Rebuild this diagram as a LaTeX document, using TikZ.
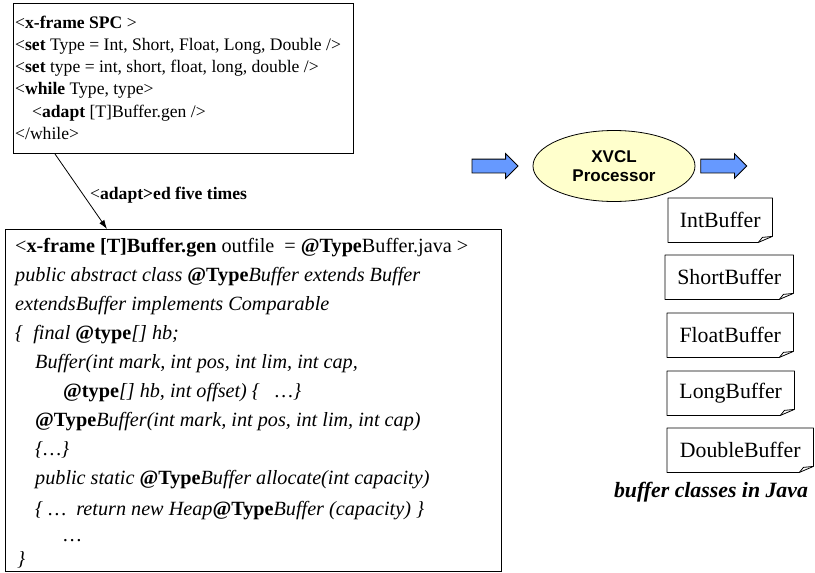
\documentclass[tikz,border=0pt]{standalone}
\usepackage{fontspec}
\setmainfont{Liberation Serif}
\setsansfont{Liberation Sans}
\usetikzlibrary{arrows.meta,calc,shapes.geometric,shapes.arrows}

\definecolor{procfill}{HTML}{FFFFCC}
\definecolor{arrowfill}{HTML}{6699FF}

% font sizes (1pt = 1 unit of the drawing)
\newcommand\spcfs{\fontsize{17.6}{21}\selectfont}
\newcommand\genfs{\fontsize{20.2}{24}\selectfont}
\newcommand\buffs{\fontsize{21.8}{26}\selectfont}
\newcommand\procfs{\fontsize{17}{19.5}\selectfont}
% bold upright meta-variable inside italic code
\newcommand\mv[1]{{\upshape\bfseries #1}}

\begin{document}
\begin{tikzpicture}[x=1pt,y=-1pt,
  frame/.style={draw,line width=1pt,inner sep=0pt,anchor=north west},
  codeline/.style={anchor=base west,inner sep=0pt},
  docbox/.style={anchor=north west,inner sep=0pt,minimum height=44pt,font=\buffs},
  docline/.style={line width=0.8pt,line join=round},
  blockarrow/.style={single arrow,draw,line width=0.8pt,fill=arrowfill,
    minimum height=46pt,inner sep=6.5pt,single arrow head extend=5.5pt}]
\useasboundingbox (0,0) rectangle (815,573);

% ---- SPC frame ----
\node[frame,minimum width=340pt,minimum height=150pt] (spc) at (13,3) {};
\begin{scope}[every node/.style={codeline,font=\spcfs}]
\node (s1) at (15,28)    {<\textbf{x-frame SPC} >};
\node (s2) at (15,50.3)  {<\textbf{set} Type = Int, Short, Float, Long, Double />};
\node (s3) at (15,72.6)  {<\textbf{set} type = int, short, float, long, double />};
\node (s4) at (15,94.9)  {<\textbf{while} Type, type>};
\node (s5) at (32,117.2) {<\textbf{adapt} [T]Buffer.gen />};
\node (s6) at (15,139.5) {</while>};
\end{scope}

% ---- [T]Buffer.gen frame ----
\node[frame,minimum width=496pt,minimum height=342pt] (gen) at (5,229) {};
\begin{scope}[every node/.style={codeline,font=\genfs}]
\node (g1)  at (15,252)  {<\textbf{x-frame [T]Buffer.gen} outfile\ \ = \textbf{@Type}Buffer.java >};
\node (g2)  at (15,281.5){\itshape public abstract class \mv{@Type}Buffer extends Buffer};
\node (g3)  at (15,310.5){\itshape extendsBuffer implements Comparable};
\node (g4)  at (15,339.5){\itshape \{\ \ final \mv{@type}[] hb;};
\node (g5)  at (35,368.5){\itshape Buffer(int mark, int pos, int lim, int cap,};
\node (g6)  at (63,397.5){\itshape \mv{@type}[] hb, int offset) \{\ \ \ …\}};
\node (g7)  at (35,426.5){\itshape \mv{@Type}Buffer(int mark, int pos, int lim, int cap)};
\node (g8)  at (35,455)  {\itshape \{…\}};
\node (g9)  at (35,484)  {\itshape public static \mv{@Type}Buffer allocate(int capacity)};
\node (g10) at (35,515)  {\itshape \{ …\ \ return new Heap\mv{@Type}Buffer (capacity) \}};
\node (g11) at (62,541)  {…};
\node (g12) at (17,565)  {\itshape \}};
\end{scope}

% ---- adaptation link ----
\draw[line width=0.8pt,-{Latex[length=9pt,width=6pt]}]
  ($(spc.south west)+(42,0)$) -- ($(gen.north west)+(102,0)$);
\node[codeline,font=\spcfs] (adlbl) at (90,199) {<\textbf{adapt>ed five times}};

% ---- XVCL processor ----
\node[ellipse,draw,line width=0.8pt,fill=procfill,minimum width=162pt,minimum height=71pt,
  inner sep=0pt,align=center,font=\procfs\sffamily\bfseries] (xvcl) at (614,166) {XVCL\\Processor};
\node[blockarrow,anchor=tip]  (inarr)  at ($(xvcl.west)+(-14,0)$) {};
\node[blockarrow,anchor=tail] (outarr) at ($(xvcl.east)+(5,0)$) {};

% ---- generated buffer classes ----
\foreach \nm/\x/\y/\w/\txt in {ib/668/198/104/IntBuffer,
                               sb/665/255/128/ShortBuffer,
                               fb/667/313/126/FloatBuffer,
                               lb/667/371/127/LongBuffer,
                               db/667/428/146/DoubleBuffer}{
  \node[docbox,minimum width=\w pt] (\nm) at (\x,\y) {\txt};
  \draw[docline] (\nm.south west) -- (\nm.north west) -- (\nm.north east)
     -- ($(\nm.south east)+(0,-6)$) -- ($(\nm.south east)+(-14,0)$) -- cycle;
  \draw[docline] ($(\nm.south east)+(-14,0)$) -- ($(\nm.south east)+(-10,-5)$)
     -- ($(\nm.south east)+(0,-6)$);
}
\node[anchor=base,inner sep=0pt,font=\buffs\bfseries\itshape] (caption) at (711,497)
  {buffer classes in Java};
\end{tikzpicture}
\end{document}
